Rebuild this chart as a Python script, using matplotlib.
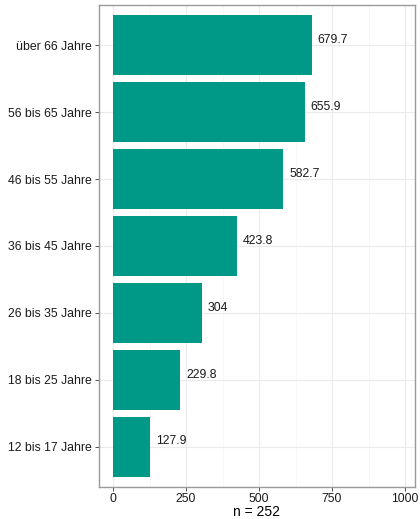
import matplotlib.pyplot as plt
from matplotlib.ticker import MultipleLocator

plt.rcParams["font.family"] = ["Liberation Sans", "DejaVu Sans"]

# Data
categories = ["12 bis 17 Jahre", "18 bis 25 Jahre", "26 bis 35 Jahre", "36 bis 45 Jahre",
              "46 bis 55 Jahre", "56 bis 65 Jahre", "über 66 Jahre"]
values = [127.9, 229.8, 304, 423.8, 582.7, 655.9, 679.7]
labels = ["127.9", "229.8", "304", "423.8", "582.7", "655.9", "679.7"]

bar_color = "#009987"
grid_color = "#EBEBEB"
border_color = "#9A9A9A"

fig = plt.figure(figsize=(4.2, 5.19), dpi=100)
ax = fig.add_axes([0.2357, 0.0617, 0.9881 - 0.2357, 0.9904 - 0.0617])

ypos = list(range(len(categories)))
ax.barh(ypos, values, height=0.9, color=bar_color, zorder=3)
for y, v, t in zip(ypos, values, labels):
    ax.text(v + 20, y + 0.08, t, fontsize=8.8, color="#1A1A1A", ha="left", va="center", zorder=4)

ax.set_xlim(-48, 1034)
ax.set_ylim(-0.6, len(categories) - 0.4)
ax.set_yticks(ypos)
ax.set_yticklabels(categories)
ax.xaxis.set_major_locator(MultipleLocator(250))
ax.xaxis.set_minor_locator(MultipleLocator(125))
ax.set_xticks([0, 250, 500, 750, 1000])

ax.grid(True, which="major", color=grid_color, lw=0.8, zorder=0)
ax.grid(True, which="minor", axis="x", color="#F4F4F4", lw=0.5, zorder=0)
ax.tick_params(axis="both", which="major", labelsize=8.8, colors="#333333", length=3, width=0.6,
               labelcolor="#1A1A1A", pad=2)
ax.tick_params(axis="x", which="major", pad=1.5)
ax.tick_params(axis="x", which="minor", length=0)
for s in ax.spines.values():
    s.set_color(border_color)
    s.set_linewidth(1.0)

# x-axis title, placed explicitly so it stays inside the canvas
bbox = ax.get_position()
fig.text((bbox.x0 + bbox.x1) / 2, 1 - 512.5 / 519, "n = 252", fontsize=10,
         ha="center", va="center", color="black")

fig.savefig("out.png", dpi=100, facecolor="white")
